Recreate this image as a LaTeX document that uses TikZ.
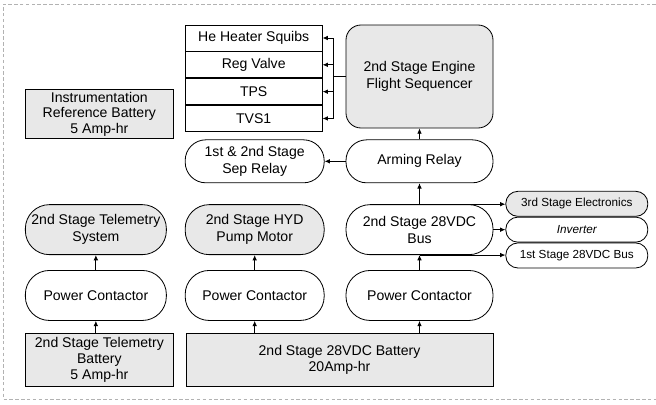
\documentclass[tikz,border=0pt]{standalone}
\usepackage{fontspec}
\setmainfont{Liberation Sans}
\usetikzlibrary{arrows.meta, positioning}

\begin{document}
\begin{tikzpicture}[
    node distance=0.6cm,
    box/.style={rectangle, draw, line width=0.7pt, align=center, inner sep=1pt, font=\fontsize{12}{14.5}\selectfont},
    battery/.style={box, fill=black!9, minimum height=1.59cm, font=\fontsize{12}{13.5}\selectfont},
    stackbox/.style={box, minimum width=4.11cm, minimum height=0.78cm},
    pill/.style={box, rounded corners=0.72cm, minimum height=1.5cm},
    relay/.style={pill, rounded corners=0.62cm, minimum height=1.29cm},
    small/.style={box, rounded corners=0.36cm, minimum width=4.26cm, minimum height=0.75cm, font=\fontsize{10}{12}\selectfont},
    shade/.style={fill=black!9},
    arrow/.style={-{Latex[length=1.6mm, width=1.4mm]}, line width=0.7pt},
    border/.style={gray!60, densely dashed, line width=0.5pt}
]
\useasboundingbox (0,0) rectangle (19.68,-12.15);
\draw[border] (19.68,-0.12) -- (0.09,-0.12) -- (0.09,-11.97) -- (19.68,-11.97);

% Sequencer and its loads
\node[pill, shade, rounded corners=0.45cm, minimum width=4.41cm, minimum height=3.09cm] (seq) at (12.585,-2.295) {2nd Stage Engine\\Flight Sequencer};
\node[stackbox, below left=0cm and 0.69cm of seq.north west] (squib) {He Heater Squibs};
\node[stackbox, below=0cm of squib] (reg) {Reg Valve};
\node[stackbox, below=0cm of reg] (tps) {TPS};
\node[stackbox, below=0cm of tps] (tvs) {TVS1};

% Relays
\node[relay, minimum width=4.41cm, below=0.33cm of seq] (arm) {Arming Relay};
\node[relay, minimum width=4.17cm, left=0.63cm of arm] (sep) {1st \& 2nd Stage\\Sep Relay};

% Bus row
\node[pill, minimum width=4.41cm, below=0.63cm of arm] (bus) {2nd Stage 28VDC\\Bus};
\node[pill, shade, minimum width=4.17cm, left=0.63cm of bus] (hyd) {2nd Stage HYD\\Pump Motor};
\node[pill, shade, minimum width=4.23cm, left=0.54cm of hyd] (tel) {2nd Stage Telemetry\\System};
\node[small, right=0.36cm of bus] (inv) {\itshape Inverter};
\node[small, shade, above=0cm of inv] (elec) {3rd Stage Electronics};
\node[small, below=0cm of inv] (first) {1st Stage 28VDC Bus};

% Power contactors
\node[pill, minimum width=4.41cm, below=0.45cm of bus] (pc3) {Power Contactor};
\node[pill, minimum width=4.17cm, left=0.63cm of pc3] (pc2) {Power Contactor};
\node[pill, minimum width=4.23cm, left=0.54cm of pc2] (pc1) {Power Contactor};

% Batteries
\node[battery, minimum width=9.21cm, below left=0.36cm and 0cm of pc3.south east] (batt28) {2nd Stage 28VDC Battery\\20Amp-hr};
\node[battery, minimum width=4.44cm, below right=0.36cm and 0cm of pc1.south west] (telbatt) {2nd Stage Telemetry\\Battery\\5 Amp-hr};
\node[battery, minimum width=4.44cm, minimum height=1.47cm, above right=1.95cm and 0cm of tel.north west] (instr) {Instrumentation\\Reference Battery\\5 Amp-hr};

% Sequencer outputs
\coordinate[left=0.36cm of seq.west] (tap);
\draw[line width=0.7pt] (seq.west) -- (tap);
\draw[line width=0.7pt] (tap |- squib.east) -- (tap |- tvs.east);
\foreach \n in {squib, reg, tps, tvs}
    \draw[arrow] (tap |- \n.east) -- (\n.east);

% Arrows up the chain
\draw[arrow] (arm) -- (seq);
\draw[arrow] (arm) -- (sep);
\draw[arrow] (bus) -- (arm);
\draw[arrow] (pc3) -- (bus);
\draw[arrow] (pc2) -- (hyd);
\draw[arrow] (pc1) -- (tel);
\draw[arrow] (pc3.south |- batt28.north) -- (pc3);
\draw[arrow] (pc2.south |- batt28.north) -- (pc2);
\draw[arrow] (pc1.south |- telbatt.north) -- (pc1);

% Bus outputs
\draw[arrow] (bus.north) -- (bus.north -| elec.west);
\draw[arrow] (bus) -- (inv);
\draw[arrow] (bus.south) -- (bus.south -| first.west);

\end{tikzpicture}
\end{document}
